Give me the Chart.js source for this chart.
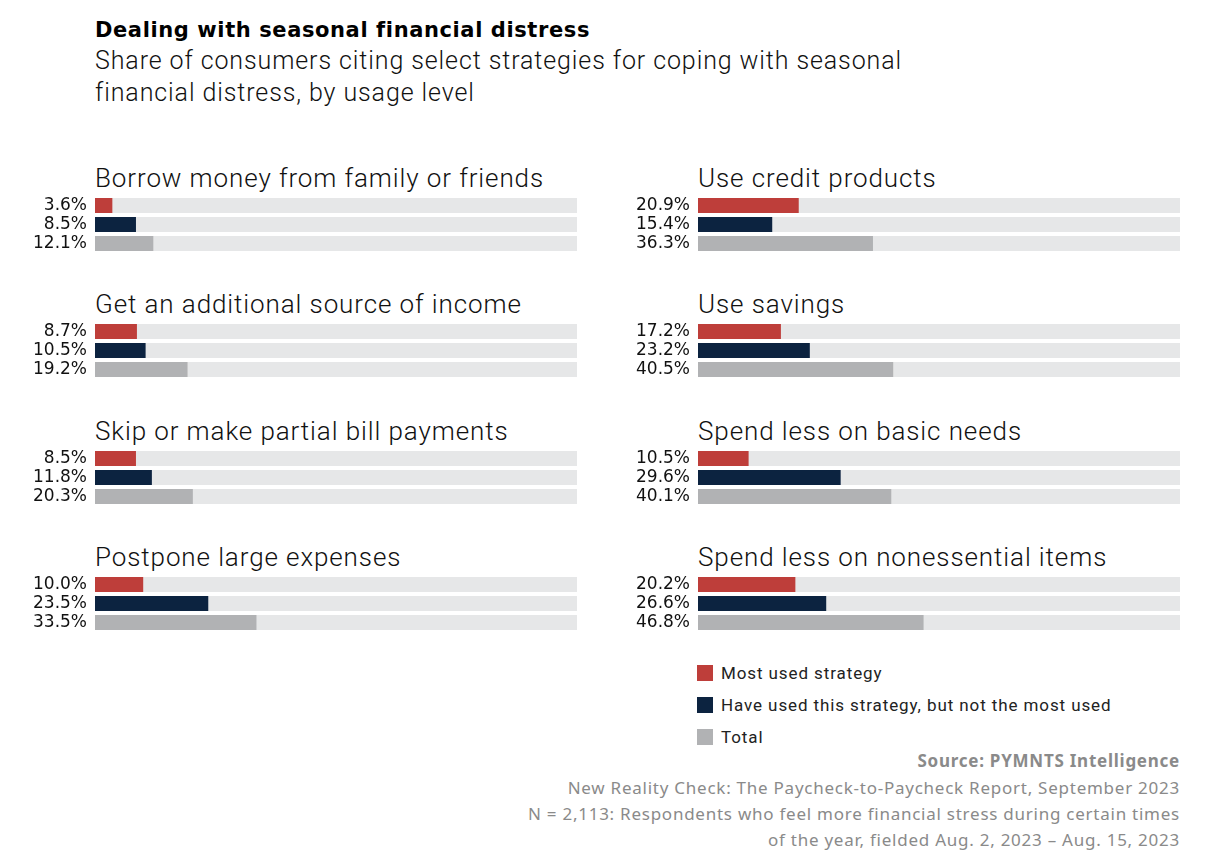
<!DOCTYPE html>
<html>
<head>
<meta charset="utf-8">
<script src="https://cdn.jsdelivr.net/npm/chart.js@4.4.0/dist/chart.umd.min.js"></script>
<style>
  body { margin: 0; background: #fff; width: 1207px; height: 864px; position: relative; overflow: hidden; font-family: Roboto, "Noto Sans", sans-serif; }
  .abs { position: absolute; }
  #title { left: 95px; top: 18px; font-family: "DejaVu Sans", sans-serif; font-size: 21px; font-weight: 700; color: #000; letter-spacing: 0.6px; white-space: nowrap; }
  #subtitle { left: 95px; top: 45px; font-size: 25px; font-weight: 300; color: #111; line-height: 32px; letter-spacing: 0.9px; white-space: nowrap; }
  .ptitle { font-size: 26px; font-weight: 300; color: #111; white-space: nowrap; letter-spacing: 0.9px; }
  .legend { left: 697px; font-size: 17px; color: #222; display: flex; align-items: center; letter-spacing: 0.9px; white-space: nowrap; }
  .legend span { display: inline-block; width: 16px; height: 16px; margin-right: 8px; }
  .src { right: 27px; text-align: right; font-family: "Noto Sans", sans-serif; font-size: 17px; color: #8a8a8a; white-space: nowrap; letter-spacing: 0.75px; }
</style>
</head>
<body>
<div id="title" class="abs">Dealing with seasonal financial distress</div>
<div id="subtitle" class="abs">Share of consumers citing select strategies for coping with seasonal<br>financial distress, by usage level</div>

<div class="abs legend" style="top:663px"><span style="background:#BE3E3A"></span>Most used strategy</div>
<div class="abs legend" style="top:695px"><span style="background:#0C2340"></span>Have used this strategy, but not the most used</div>
<div class="abs legend" style="top:727px"><span style="background:#B1B2B4"></span>Total</div>

<div class="abs src" style="top:749px;font-weight:700">Source: PYMNTS Intelligence</div>
<div class="abs src" style="top:776px">New Reality Check: The Paycheck-to-Paycheck Report, September 2023</div>
<div class="abs src" style="top:802px">N = 2,113: Respondents who feel more financial stress during certain times</div>
<div class="abs src" style="top:828px">of the year, fielded Aug. 2, 2023 – Aug. 15, 2023</div>

<script>
// strategies, left column first then right column
const strategies = [
    'Borrow money from family or friends',
    'Get an additional source of income',
    'Skip or make partial bill payments',
    'Postpone large expenses',
    'Use credit products',
    'Use savings',
    'Spend less on basic needs',
    'Spend less on nonessential items'
];
const seriesNames = ['Most used strategy', 'Have used this strategy, but not the most used', 'Total'];
const mostUsed = [3.6, 8.7, 8.5, 10.0, 20.9, 17.2, 10.5, 20.2];
const haveUsed = [8.5, 10.5, 11.8, 23.5, 15.4, 23.2, 29.6, 26.6];
const total = [12.1, 19.2, 20.3, 33.5, 36.3, 40.5, 40.1, 46.8];

const colors = ['#BE3E3A', '#0C2340', '#B1B2B4'];
const trackColor = '#E6E7E8';

strategies.forEach((name, i) => {
    const col = Math.floor(i / 4);
    const row = i % 4;
    const barLeft = col === 0 ? 95 : 698;
    const top = 195.5 + row * 126.5;

    const t = document.createElement('div');
    t.className = 'abs ptitle';
    t.style.left = barLeft + 'px';
    t.style.top = (top - 33) + 'px';
    t.textContent = name;
    document.body.appendChild(t);

    const wrap = document.createElement('div');
    wrap.className = 'abs';
    wrap.style.left = (barLeft - 70) + 'px';
    wrap.style.top = top + 'px';
    wrap.style.width = '552px';
    wrap.style.height = '57px';
    const canvas = document.createElement('canvas');
    wrap.appendChild(canvas);
    document.body.appendChild(wrap);

    const values = [mostUsed[i], haveUsed[i], total[i]];

    new Chart(canvas.getContext('2d'), {
        type: 'bar',
        data: {
            labels: seriesNames,
            datasets: [
                {
                    data: values,
                    backgroundColor: colors,
                    grouped: false,
                    order: 1,
                    barPercentage: 0.79,
                    categoryPercentage: 1
                },
                {
                    data: [100, 100, 100],
                    backgroundColor: trackColor,
                    grouped: false,
                    order: 2,
                    barPercentage: 0.79,
                    categoryPercentage: 1
                }
            ]
        },
        options: {
            indexAxis: 'y',
            responsive: true,
            maintainAspectRatio: false,
            animation: false,
            layout: { padding: 0 },
            scales: {
                x: { min: 0, max: 100, display: false },
                y: {
                    grid: { display: false, drawTicks: false },
                    border: { display: false },
                    afterFit: scale => {
                        scale.width = 70;
                        scale.paddingTop = 0;
                        scale.paddingBottom = 0;
                    },
                    ticks: {
                        padding: 8,
                        autoSkip: false,
                        color: '#111',
                        font: { family: 'DejaVu Sans', size: 17 },
                        callback: (v, idx) => values[idx].toFixed(1) + '%'
                    }
                }
            },
            plugins: {
                legend: { display: false },
                tooltip: { enabled: false }
            }
        }
    });
});
</script>
</body>
</html>
